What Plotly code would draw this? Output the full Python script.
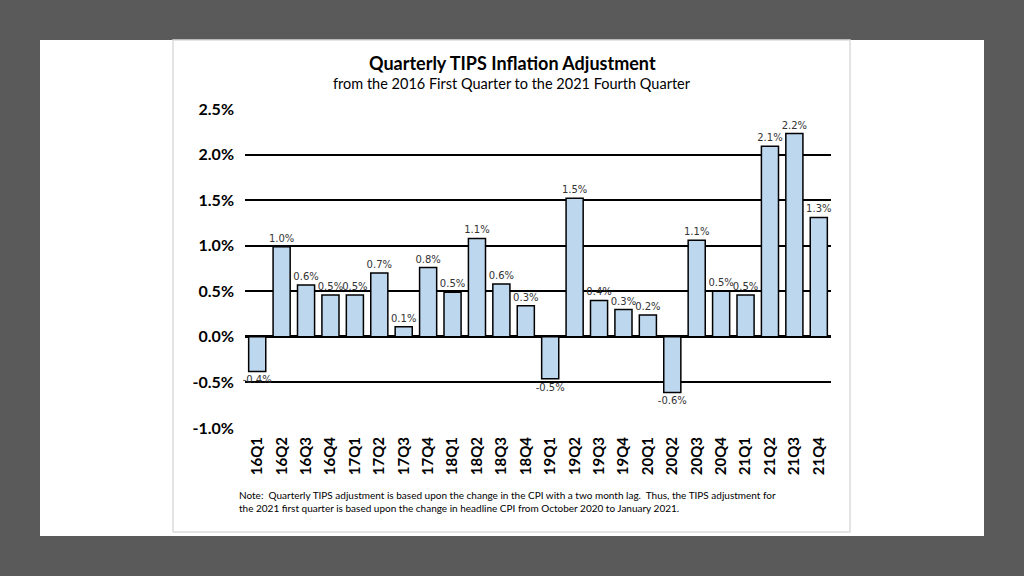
import plotly.graph_objects as go

# quarterly TIPS inflation adjustment, percent
quarters = ["16Q1", "16Q2", "16Q3", "16Q4", "17Q1", "17Q2", "17Q3", "17Q4",
            "18Q1", "18Q2", "18Q3", "18Q4", "19Q1", "19Q2", "19Q3", "19Q4",
            "20Q1", "20Q2", "20Q3", "20Q4", "21Q1", "21Q2", "21Q3", "21Q4"]
adjustment = [-0.38, 0.99, 0.57, 0.46, 0.46, 0.70, 0.11, 0.76,
              0.49, 1.08, 0.58, 0.34, -0.46, 1.52, 0.40, 0.30,
              0.24, -0.61, 1.06, 0.50, 0.46, 2.09, 2.23, 1.31]
y_ticks = [-1.0, -0.5, 0.0, 0.5, 1.0, 1.5, 2.0, 2.5]
y_labels = ["-1.0%", "-0.5%", "0.0%", "0.5%", "1.0%", "1.5%", "2.0%", "2.5%"]

title = "Quarterly TIPS Inflation Adjustment"
subtitle = "from the 2016 First Quarter to the 2021 Fourth Quarter"
note = ("Note:  Quarterly TIPS adjustment is based upon the change in the CPI with a two month lag.  "
        "Thus, the TIPS adjustment for<br>the 2021 first quarter is based upon the change in "
        "headline CPI from October 2020 to January 2021.")

W, H = 1024, 576
L, R, T, B = 245, 831, 109, 428   # plot area in pixels


def px(x):
    return (x - L) / (R - L)


def py(y):
    return (B - y) / (B - T)


fig = go.Figure()
fig.add_trace(go.Bar(
    x=quarters,
    y=adjustment,
    marker=dict(color="#bdd7ee", line=dict(color="black", width=1.5)),
    text=[f"{v:.1f}%" for v in adjustment],
    textposition="outside",
    constraintext="none",
    textfont=dict(family="DejaVu Sans", size=10, color="#333333"),
    cliponaxis=False,
    hoverinfo="x+y",
))

# grey frame, white page, light box around the chart
shapes = [
    dict(type="rect", xref="paper", yref="paper", x0=px(40), x1=px(984), y0=py(536), y1=py(40),
         fillcolor="white", line=dict(width=0), layer="below"),
    dict(type="rect", xref="paper", yref="paper", x0=px(173), x1=px(850), y0=py(532), y1=py(40),
         fillcolor="white", line=dict(color="#dcdcdc", width=1.5), layer="below"),
]

annotations = [
    dict(text="<b>" + title + "</b>", x=px(512), y=py(63), xref="paper", yref="paper",
         showarrow=False, xanchor="center", yanchor="middle",
         font=dict(family="Lato", size=18, color="black")),
    dict(text=subtitle, x=px(512), y=py(84), xref="paper", yref="paper",
         showarrow=False, xanchor="center", yanchor="middle",
         font=dict(family="Lato", size=14.5, color="black")),
    dict(text=note, x=px(237), y=py(501), xref="paper", yref="paper",
         showarrow=False, xanchor="left", yanchor="middle", align="left",
         font=dict(family="Lato", size=10, color="black")),
]

fig.update_layout(
    width=W, height=H,
    margin=dict(l=L, r=W - R, t=T, b=H - B, pad=0),
    paper_bgcolor="#5a5a5a",
    plot_bgcolor="rgba(0,0,0,0)",
    bargap=0.3,
    showlegend=False,
    shapes=shapes,
    annotations=annotations,
    xaxis=dict(
        tickangle=-90,
        tickfont=dict(family="Lato", size=15, color="black", weight="bold"),
        showgrid=False, showline=False, ticks="",
        ticklabelstandoff=5,
    ),
    yaxis=dict(
        range=[-1.0, 2.5],
        tickvals=y_ticks,
        ticktext=y_labels,
        tickfont=dict(family="Lato", size=16, color="black", weight="bold"),
        showgrid=True, gridcolor="black", gridwidth=1.5,
        zeroline=True, zerolinecolor="black", zerolinewidth=2.5,
        showline=False, ticks="",
        ticklabelstandoff=10,
    ),
)

fig.write_html("out.html", config={"displayModeBar": False},
               post_script="document.body.style.margin='0';document.body.style.overflow='hidden';")
